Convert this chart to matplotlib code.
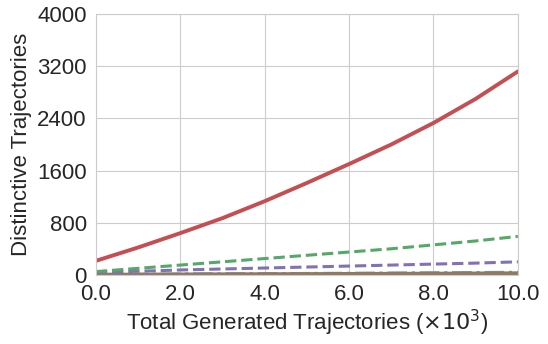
import matplotlib
matplotlib.use("Agg")
import matplotlib.pyplot as plt
import seaborn as sns

sns.set_style("whitegrid")
plt.rcParams['font.family'] = ['Liberation Sans', 'DejaVu Sans']

# total generated trajectories (x10^3)
x = [0, 1, 2, 3, 4, 5, 6, 7, 8, 9, 10]

# distinctive trajectories per method
red = [215, 420, 640, 870, 1130, 1410, 1700, 2000, 2330, 2700, 3120]
green = [50, 100, 150, 200, 250, 300, 350, 400, 460, 520, 590]
purple = [40, 55, 75, 90, 105, 120, 135, 150, 165, 180, 200]
blue = [5, 8, 12, 15, 18, 22, 25, 28, 32, 36, 40]
grey = [3, 6, 9, 12, 14, 17, 20, 22, 25, 28, 30]
brown = [2, 4, 6, 8, 10, 12, 14, 16, 18, 21, 24]

fig = plt.figure(figsize=(5.48, 3.44), dpi=100)
ax = fig.add_subplot(111)

ax.plot(x, blue, color='#64B5CD', linestyle='-.', linewidth=2.2)
ax.plot(x, grey, color='#8C8C8C', linestyle='-.', linewidth=2.2)
ax.plot(x, brown, color='#937860', linestyle='-', linewidth=2.8)
ax.plot(x, purple, color='#8172B3', linestyle='--', linewidth=2.2)
ax.plot(x, green, color='#55A868', linestyle='--', linewidth=2.2)
ax.plot(x, red, color='#C44E52', linestyle='-', linewidth=2.8)

ax.set_xlim(0, 10)
ax.set_ylim(0, 4000)
ax.set_xticks([0, 2, 4, 6, 8, 10])
ax.set_xticklabels(['0.0', '2.0', '4.0', '6.0', '8.0', '10.0'])
ax.set_yticks([0, 800, 1600, 2400, 3200, 4000])
ax.tick_params(labelsize=16, pad=3, labelcolor='#262626')
ax.set_xlabel(r'Total Generated Trajectories ($\times 10^3$)', fontsize=16, labelpad=2, color='#262626')
ax.set_ylabel('Distinctive Trajectories', fontsize=16, labelpad=4, color='#262626')

fig.subplots_adjust(left=0.175, right=0.945, top=0.959, bottom=0.201)
fig.savefig('out.png', dpi=100)
plt.close(fig)
